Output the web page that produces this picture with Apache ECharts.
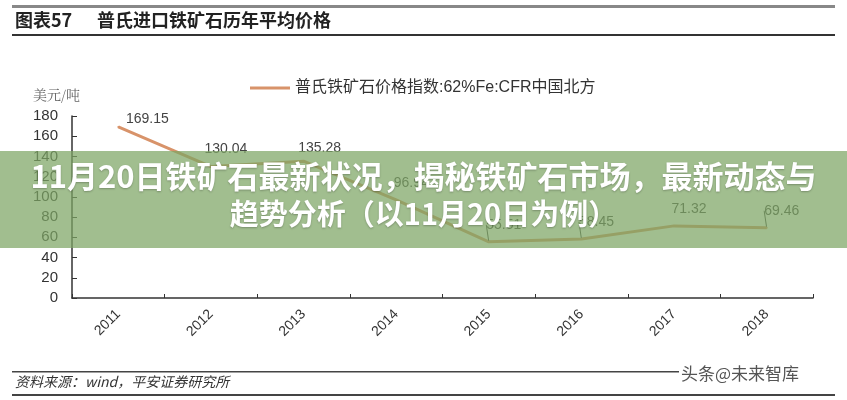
<!DOCTYPE html>
<html><head><meta charset="utf-8">
<script src="https://cdn.jsdelivr.net/npm/echarts@6/dist/echarts.min.js"></script>
<style>html,body{margin:0;padding:0;background:#fff}#c{width:847px;height:400px}</style>
</head><body><div id="c"></div>
<script>
const categories = ['2011','2012','2013','2014','2015','2016','2017','2018'];
const prices = [169.15, 130.04, 135.28, 96.94, 55.51, 58.45, 71.32, 69.46];
const yTicks = [0,20,40,60,80,100,120,140,160,180];
const seriesName = '普氏铁矿石价格指数:62%Fe:CFR中国北方';
const chartTitle = '普氏进口铁矿石历年平均价格';
const chartNo = '图表57';
const unitText = '美元/吨';
const sourceText = '资料来源：wind，平安证券研究所';
const watermark = '头条@未来智库';
const bannerLines = ['11月20日铁矿石最新状况，揭秘铁矿石市场，最新动态与', '趋势分析（以11月20日为例）'];
const leaderIdx = [4,5,7];

const FONT = '"Liberation Sans", Arial, "Noto Sans CJK SC", sans-serif';
const LINE_COLOR = '#d8936a';
const chart = echarts.init(document.getElementById('c'));
chart.setOption({
  animation: false,
  backgroundColor: '#fff',
  textStyle: {fontFamily: FONT},
  grid: {left: 72, right: 34, top: 116, bottom: 102, containLabel: false},
  legend: {
    left: 245, top: 75, itemWidth: 40, itemHeight: 3, itemGap: 6,
    textStyle: {fontSize: 16, color: '#333', fontFamily: FONT},
    itemStyle: {color: LINE_COLOR},
    data: [{name: seriesName, icon: 'rect'}]
  },
  xAxis: {
    type: 'category', data: categories, boundaryGap: true,
    axisLine: {lineStyle: {color: '#333', width: 1.5}},
    axisTick: {show: true, inside: true, length: 4, lineStyle: {color: '#333'}},
    axisLabel: {rotate: 45, fontSize: 14, color: '#333', margin: 14}
  },
  yAxis: {
    type: 'value', min: 0, max: 180, interval: 20,
    axisLine: {show: true, lineStyle: {color: '#333', width: 1.5}},
    axisTick: {show: true, inside: true, length: 5, lineStyle: {color: '#333'}},
    axisLabel: {fontSize: 15, color: '#333', margin: 14},
    splitLine: {show: false}
  },
  series: [{
    name: seriesName, type: 'line',
    data: prices.map((v,i)=>({value: v, labelLine: {show: leaderIdx.includes(i)}})),
    symbol: 'circle', symbolSize: 2, showSymbol: true,
    lineStyle: {color: LINE_COLOR, width: 3},
    itemStyle: {color: LINE_COLOR},
    label: {show: true, position: 'top', distance: 6, fontSize: 14, color: '#444',
            formatter: p => Number(p.value).toFixed(2)},
    labelLayout: p => p.dataIndex === 0 ? {dx: 29, dy: 6} : (p.dataIndex === 2 ? {dx: 16, dy: 1} : {dx: 15, dy: -3}),
    labelLine: {show: false, lineStyle: {color: '#444', width: 1}},
    z: 3
  }],
  graphic: [
    {type: 'rect', shape: {x: 12, y: 5, width: 823, height: 3}, style: {fill: '#888'}},
    {type: 'text', left: 15, top: 11, style: {text: chartNo, font: 'bold 18px "Noto Sans CJK SC"', fill: '#222'}},
    {type: 'text', left: 97, top: 11, style: {text: chartTitle, font: 'bold 18px "Noto Sans CJK SC"', fill: '#222'}},
    {type: 'rect', shape: {x: 12, y: 34, width: 823, height: 2}, style: {fill: '#333'}},
    {type: 'text', left: 33, top: 88, style: {text: unitText, font: '14px "Noto Serif CJK SC", "Noto Sans CJK SC"', fill: '#666'}},
    {type: 'rect', shape: {x: 12, y: 371, width: 667, height: 1.5}, style: {fill: '#444'}},
    {type: 'rect', shape: {x: 12, y: 394, width: 823, height: 2}, style: {fill: '#444'}},
    {type: 'text', left: 15, top: 375, style: {text: sourceText, font: 'italic 14px "Noto Sans CJK SC"', fill: '#333'}},
    {type: 'text', left: 681, top: 365, style: {text: watermark, font: '17px "Noto Sans CJK SC"', fill: '#555'}},
    {type: 'rect', z: 100, shape: {x: 0, y: 151, width: 847, height: 97}, style: {fill: 'rgba(125,165,100,0.72)'}},
    {type: 'text', z: 101, left: 'center', top: 161, style: {text: bannerLines[0], font: 'bold 31px "Noto Sans CJK SC"', fill: '#fff', textShadowColor: 'rgba(0,0,0,0.25)', textShadowBlur: 2, textShadowOffsetY: 1}},
    {type: 'text', z: 101, left: 'center', top: 199, style: {text: bannerLines[1], font: 'bold 29px "Noto Sans CJK SC"', fill: '#fff', textShadowColor: 'rgba(0,0,0,0.25)', textShadowBlur: 2, textShadowOffsetY: 1}}
  ]
});
</script></body></html>
